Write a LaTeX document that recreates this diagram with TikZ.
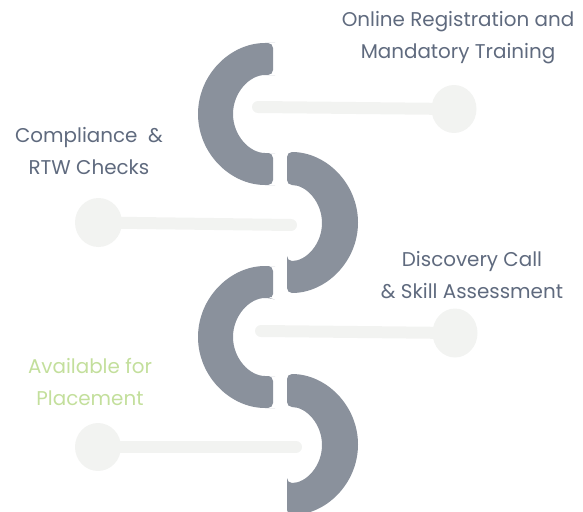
\documentclass[tikz,border=0pt]{standalone}
\usepackage{fontspec}
\setmainfont{Poppins}
\usetikzlibrary{shapes.geometric}
\definecolor{arcgrey}{HTML}{8A919C}
\definecolor{linegrey}{HTML}{F2F3F1}
\definecolor{textgrey}{HTML}{5F6A7E}
\definecolor{textgreen}{HTML}{C3DF9C}
\begin{document}
\begin{tikzpicture}[x=1pt,y=-1pt,
  arcshape/.style={fill=arcgrey,rounded corners=5pt},
  conn/.style={draw=linegrey,line width=12pt,line cap=round},
  dot/.style={ellipse,fill=linegrey,inner sep=0pt},
  lbl/.style={font=\fontsize{19.9}{32}\selectfont,text=textgrey,align=center,inner sep=0pt},
  lblgreen/.style={lbl,text=textgreen}]
\useasboundingbox (0,0) rectangle (583,511);
% connectors (behind)
\node[dot,minimum width=45pt,minimum height=48pt] (d1) at (454,109) {};
\coordinate (e1) at (258,107);
\draw[conn] (e1) -- (d1.center);
\node[dot,minimum width=47pt,minimum height=49pt] (d2) at (98.5,222.5) {};
\coordinate (e2) at (291,225);
\draw[conn] (d2.center) -- (e2);
\node[dot,minimum width=45pt,minimum height=49pt] (d3) at (455,333) {};
\coordinate (e3) at (261,331);
\draw[conn] (e3) -- (d3.center);
\node[dot,minimum width=46pt,minimum height=48pt] (d4) at (98,447) {};
\coordinate (e4) at (296,447);
\draw[conn] (d4.center) -- (e4);
% arcs
% left C 1
\fill[arcshape] (273,75) -- (273,43) -- (270,43)
  arc[start angle=270,end angle=90,x radius=72,y radius=71] -- (273,185) -- (273,153) -- (270,153)
  arc[start angle=90,end angle=270,x radius=37,y radius=39] -- cycle;
% right D 2
\fill[arcshape] (287,261) -- (287,293) 
  arc[start angle=90,end angle=-90,x radius=71,y radius=70.5] -- (287,185) 
  arc[start angle=-90,end angle=90,x radius=35,y radius=38] -- cycle;
% left C 3
\fill[arcshape] (273,299) -- (273,266) -- (270,266)
  arc[start angle=270,end angle=90,x radius=72,y radius=71] -- (273,408) -- (273,376) -- (270,376)
  arc[start angle=90,end angle=270,x radius=37,y radius=39] -- cycle;
% right D 4
\fill[arcshape] (287,483) -- (287,515) 
  arc[start angle=90,end angle=-90,x radius=71,y radius=70.5] -- (287,407) 
  arc[start angle=-90,end angle=90,x radius=35,y radius=38] -- cycle;
% labels
\node[lbl] (t1) at (458,38) {Online Registration and\\Mandatory Training};
\node[lbl] (t2) at (89,151) {Compliance\ \ \&\\RTW Checks};
\node[lbl] (t3) at (472,275) {Discovery Call\\\& Skill Assessment};
\node[lblgreen] (t4) at (90,382) {Available for\\Placement};
\end{tikzpicture}
\end{document}
